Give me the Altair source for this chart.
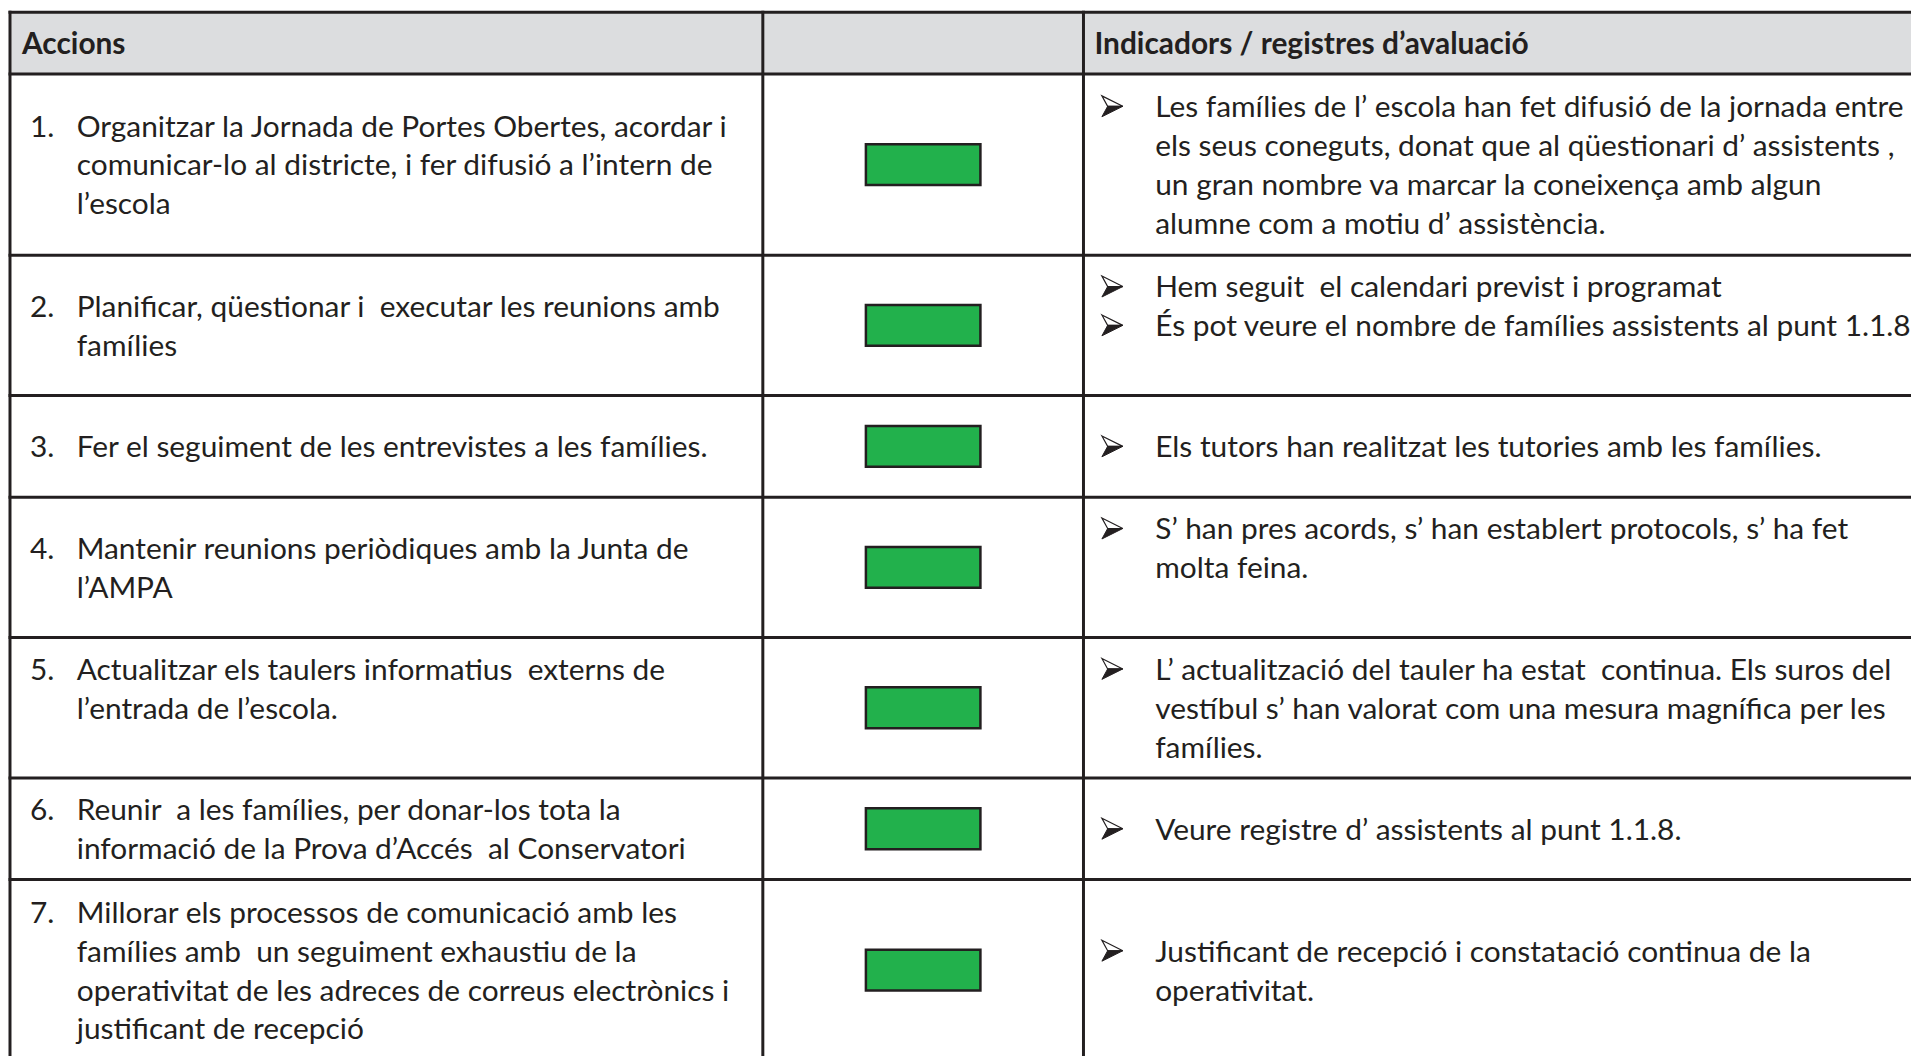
import altair as alt
import pandas as pd

# ---------------- content ----------------
HEADERS = ["Accions", "", "Indicadors / registres d’avaluació"]
NUMBERS = ["1.", "2.", "3.", "4.", "5.", "6.", "7."]
ACCIONS = [
    ["Organitzar la Jornada de Portes Obertes, acordar i",
     "comunicar-lo al districte, i fer difusió a l’intern de",
     "l’escola"],
    ["Planificar, qüestionar i  executar les reunions amb",
     "famílies"],
    ["Fer el seguiment de les entrevistes a les famílies."],
    ["Mantenir reunions periòdiques amb la Junta de",
     "l’AMPA"],
    ["Actualitzar els taulers informatius  externs de",
     "l’entrada de l’escola.",
     ""],
    ["Reunir  a les famílies, per donar-los tota la",
     "informació de la Prova d’Accés  al Conservatori"],
    ["Millorar els processos de comunicació amb les",
     "famílies amb  un seguiment exhaustiu de la",
     "operativitat de les adreces de correus electrònics i",
     "justificant de recepció"],
]
# each cell: list of paragraphs (bulleted when not empty), each paragraph a list of lines
INDICADORS = [
    [["Les famílies de l’ escola han fet difusió de la jornada entre",
      "els seus coneguts, donat que al qüestionari d’ assistents ,",
      "un gran nombre va marcar la coneixença amb algun",
      "alumne com a motiu d’ assistència."]],
    [["Hem seguit  el calendari previst i programat"],
     ["És pot veure el nombre de famílies assistents al punt 1.1.8"],
     [""]],
    [["Els tutors han realitzat les tutories amb les famílies."]],
    [["S’ han pres acords, s’ han establert protocols, s’ ha fet",
      "molta feina."],
     [""]],
    [["L’ actualització del tauler ha estat  continua. Els suros del",
      "vestíbul s’ han valorat com una mesura magnífica per les",
      "famílies."]],
    [["Veure registre d’ assistents al punt 1.1.8."]],
    [["Justificant de recepció i constatació continua de la",
      "operativitat."]],
]
ESTAT = ["verd", "verd", "verd", "verd", "verd", "verd", "verd"]

# ---------------- layout (page pixels) ----------------
OFF = 8                      # page margin
W, H = 1911, 1048            # chart size
LEFT, C1, C2 = 10, 766, 1088
TOP, HEAD_H = 10, 62
ROW_H = [182, 141, 102, 141, 141, 102, 182]
LINE_H = 39
BASE = 11
NUM_X, TXT1_X = 30, 77
ARROW_X, TXT3_X = 1117, 1160
HEAD1_X, HEAD3_X = 22, 1099
BOX_W, BOX_H = 115, 41
INK = "#231f20"
FONT = "Lato"
FS = 30
FS_HEAD = 30


def keep_spaces(s):
    return s.replace("  ", " \u00a0")


row_tops = [TOP + HEAD_H]
for h in ROW_H[:-1]:
    row_tops.append(row_tops[-1] + h)
row_lines = [TOP] + row_tops + [row_tops[-1] + ROW_H[-1]]

texts, arrows, boxes = [], [], []
for i in range(len(ACCIONS)):
    cy = row_tops[i] + ROW_H[i] / 2
    lines = ACCIONS[i]
    n = len(lines)
    for j, t in enumerate(lines):
        yc = cy + (j - (n - 1) / 2) * LINE_H
        if j == 0:
            texts.append(dict(x=NUM_X - OFF, y=yc + BASE - OFF, t=NUMBERS[i]))
        if t:
            texts.append(dict(x=TXT1_X - OFF, y=yc + BASE - OFF, t=keep_spaces(t)))
    flat = [(k == 0 and p[0] != "", line) for p in INDICADORS[i] for k, line in enumerate(p)]
    n = len(flat)
    for j, (bullet, t) in enumerate(flat):
        yc = cy + (j - (n - 1) / 2) * LINE_H
        if bullet:
            arrows.append(dict(x=ARROW_X - OFF, y=yc - OFF))
        if t:
            texts.append(dict(x=TXT3_X - OFF, y=yc + BASE - OFF, t=keep_spaces(t)))
    bx = (C1 + C2) / 2
    boxes.append(dict(x=bx - BOX_W / 2 - OFF, x2=bx + BOX_W / 2 - OFF,
                      y=cy - BOX_H / 2 - OFF, y2=cy + BOX_H / 2 - OFF, estat=ESTAT[i]))

head_y = TOP + HEAD_H / 2 + 10.5 - OFF
heads = [dict(x=HEAD1_X - OFF, y=head_y, t=HEADERS[0]),
         dict(x=HEAD3_X - OFF, y=head_y, t=HEADERS[2])]

hlines = [dict(x=LEFT - 1.5 - OFF, x2=W + 20, y=v - OFF) for v in row_lines]
vlines = [dict(x=v - OFF, y=TOP - 1.5 - OFF, y2=H + 20) for v in (LEFT, C1, C2)]
header_bg = [dict(x=LEFT - OFF, x2=W + 20, y=TOP - OFF, y2=TOP + HEAD_H - OFF)]

xs = alt.Scale(domain=[0, W], nice=False, zero=False)
ys = alt.Scale(domain=[0, H], nice=False, zero=False, reverse=True)


def X(f="x"):
    return alt.X(f, type="quantitative", scale=xs, axis=None)


def Y(f="y"):
    return alt.Y(f, type="quantitative", scale=ys, axis=None)


bg = alt.Chart(pd.DataFrame(header_bg)).mark_rect(color="#dcdddf").encode(
    x=X(), x2="x2", y=Y(), y2="y2")

box = alt.Chart(pd.DataFrame(boxes)).mark_rect(stroke=INK, strokeWidth=2.5).encode(
    x=X(), x2="x2", y=Y(), y2="y2",
    color=alt.Color("estat:N", scale=alt.Scale(domain=["verd"], range=["#22b14c"]), legend=None))

hr = alt.Chart(pd.DataFrame(hlines)).mark_rule(color=INK, strokeWidth=3).encode(
    x=X(), x2="x2", y=Y())
vr = alt.Chart(pd.DataFrame(vlines)).mark_rule(color=INK, strokeWidth=3).encode(
    x=X(), y=Y(), y2="y2")

body = alt.Chart(pd.DataFrame(texts)).mark_text(
    align="left", baseline="alphabetic", font=FONT, fontSize=FS, color=INK).encode(
    x=X(), y=Y(), text="t:N")

head = alt.Chart(pd.DataFrame(heads)).mark_text(
    align="left", baseline="alphabetic", font=FONT, fontSize=FS_HEAD, fontWeight="bold", color=INK).encode(
    x=X(), y=Y(), text="t:N")

UPPER = "M -1 -1 L 1 0 L -0.45 0 Z"
LOWER = "M -0.45 0 L 1 0 L -1 1 Z"
arr_up = alt.Chart(pd.DataFrame(arrows)).mark_point(
    shape=UPPER, size=440, filled=True, fill="white", stroke=INK, strokeWidth=1.2, opacity=1).encode(
    x=X(), y=Y())
arr_lo = alt.Chart(pd.DataFrame(arrows)).mark_point(
    shape=LOWER, size=440, filled=True, fill=INK, stroke=INK, strokeWidth=1, opacity=1).encode(
    x=X(), y=Y())

chart = alt.layer(bg, box, hr, vr, body, head, arr_up, arr_lo).properties(
    width=W, height=H, autosize=alt.AutoSizeParams(type="none"), padding=0,
    background="white"
).configure_view(stroke=None)

chart.save("out.html", embed_options={"renderer": "svg", "actions": False})
